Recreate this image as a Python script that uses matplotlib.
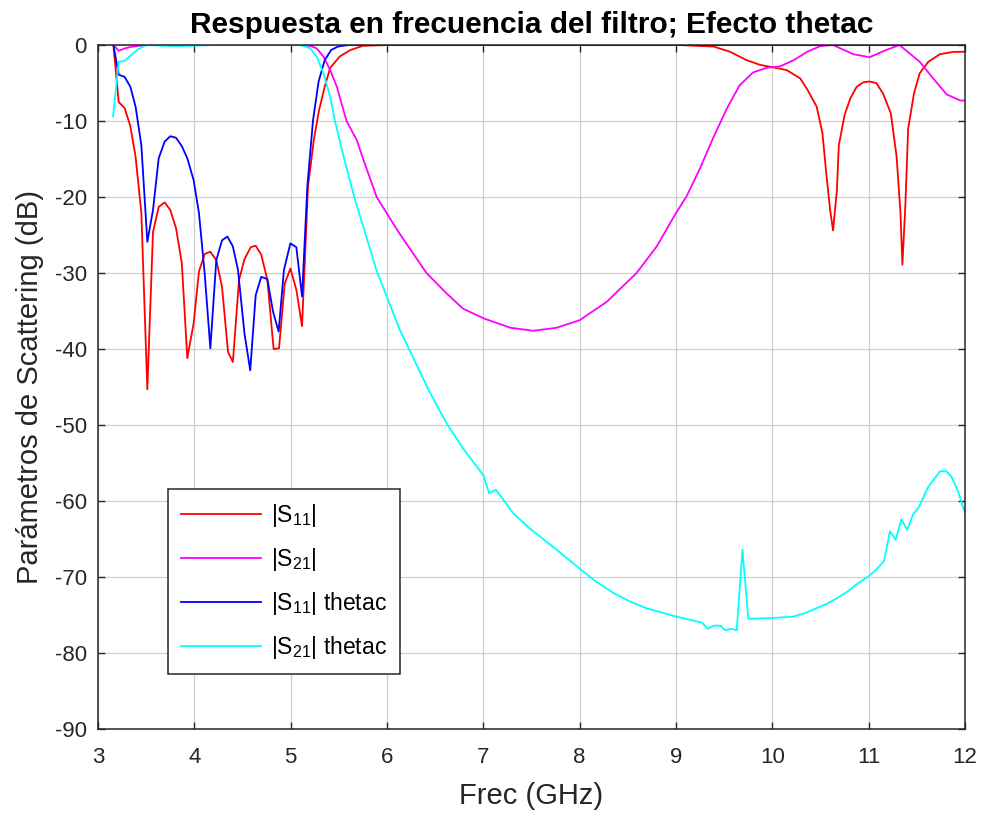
import numpy as np
import matplotlib.pyplot as plt

plt.rcParams['font.family'] = ['Liberation Sans', 'DejaVu Sans']
plt.rcParams['mathtext.fontset'] = 'custom'
plt.rcParams['mathtext.rm'] = 'Liberation Sans'
plt.rcParams['mathtext.it'] = 'Liberation Sans'
plt.rcParams['axes.unicode_minus'] = False

# |S11|
f_s11 = [3.16, 3.215, 3.277, 3.336, 3.39, 3.45, 3.512, 3.571, 3.63, 3.692,
         3.75, 3.81, 3.87, 3.927, 3.993, 4.048, 4.107, 4.166, 4.228, 4.287,
         4.35, 4.40, 4.464, 4.52, 4.585, 4.637, 4.695, 4.758, 4.823, 4.879,
         4.938, 4.997, 5.059, 5.118, 5.18, 5.24, 5.294, 5.353, 5.41, 5.51,
         5.62, 5.75, 6.0, 9.04, 9.39, 9.56, 9.73, 9.87, 10.01, 10.15,
         10.29, 10.37, 10.46, 10.52, 10.56, 10.60, 10.63, 10.67, 10.69, 10.75,
         10.81, 10.875, 10.945, 11.01, 11.08, 11.15, 11.23, 11.29, 11.33, 11.35,
         11.38, 11.41, 11.47, 11.53, 11.62, 11.74, 11.88, 12.0]
s11 = [0, -7.5, -8.3, -10.7, -14.7, -22.1, -45.3, -24.6, -21.3, -20.7,
       -21.7, -24.1, -28.7, -41.2, -36.6, -29.8, -27.5, -27.2, -28.3, -31.8,
       -40.4, -41.7, -30.9, -28.2, -26.6, -26.4, -27.6, -30.9, -40.0, -39.9,
       -31.4, -29.4, -32.2, -37.0, -18.6, -12.5, -8.6, -5.5, -3.0, -1.5,
       -0.66, -0.1, 0, 0, -0.2, -0.88, -1.97, -2.6, -2.94, -3.3,
       -4.4, -6.0, -8.1, -11.6, -16.9, -21.7, -24.4, -19.1, -13.2, -9.2,
       -7.0, -5.5, -4.9, -4.8, -5.0, -6.4, -9.0, -14.7, -22.1, -28.9,
       -21.3, -11.0, -6.4, -3.7, -2.2, -1.2, -0.9, -0.88]

# |S21|
f_s21 = [3.16, 3.215, 3.277, 3.34, 3.42, 3.52, 5.1, 5.2, 5.27, 5.34,
         5.41, 5.48, 5.58, 5.686, 5.755, 5.893, 6.01, 6.13, 6.27, 6.41,
         6.62, 6.79, 7.01, 7.28, 7.52, 7.76, 8.0, 8.28, 8.59, 8.80,
         9.0, 9.11, 9.25, 9.39, 9.53, 9.66, 9.80, 9.94, 10.08, 10.22,
         10.36, 10.50, 10.63, 10.84, 11.01, 11.18, 11.32, 11.53, 11.67, 11.81,
         11.95, 12.0]
s21 = [0, -0.75, -0.45, -0.25, -0.1, 0, 0, -0.1, -0.44, -1.5,
       -3.3, -5.5, -10.0, -12.5, -15.1, -20.0, -22.4, -24.8, -27.4, -30.0,
       -32.7, -34.7, -36.0, -37.2, -37.6, -37.2, -36.2, -33.8, -30.0, -26.5,
       -22.1, -19.9, -16.2, -12.1, -8.3, -5.3, -3.6, -3.0, -2.8, -2.0,
       -0.9, -0.13, 0, -1.2, -1.6, -0.66, 0, -2.2, -4.4, -6.5,
       -7.3, -7.3]

# |S11| thetac
f_s11t = [3.16, 3.215, 3.277, 3.336, 3.39, 3.45, 3.512, 3.571, 3.63, 3.692,
          3.75, 3.81, 3.87, 3.927, 3.993, 4.048, 4.107, 4.166, 4.228, 4.287,
          4.343, 4.40, 4.453, 4.52, 4.58, 4.637, 4.695, 4.758, 4.817, 4.875,
          4.93, 4.997, 5.059, 5.118, 5.173, 5.232, 5.29, 5.353, 5.42, 5.49,
          5.6, 12.0]
s11t = [0, -3.9, -4.2, -5.5, -8.1, -13.2, -25.9, -21.7, -14.9, -12.7,
        -12.0, -12.2, -13.3, -14.9, -17.8, -22.1, -30.0, -39.9, -28.3, -25.7,
        -25.2, -26.5, -29.6, -37.9, -42.8, -32.9, -30.5, -30.8, -35.1, -37.7,
        -29.6, -26.1, -26.6, -33.1, -18.6, -9.9, -4.8, -2.0, -0.66, -0.2,
        0, 0]

# |S21| thetac
f_s21t = [3.156, 3.215, 3.277, 3.346, 3.415, 3.5, 3.69, 3.87, 4.2, 5.1,
          5.2, 5.27, 5.34, 5.41, 5.46, 5.55, 5.66, 5.78, 5.89, 6.01,
          6.13, 6.27, 6.44, 6.62, 6.79, 7.0, 7.06, 7.13, 7.31, 7.49,
          7.76, 8.0, 8.17, 8.35, 8.52, 8.69, 9.0, 9.27, 9.33, 9.39,
          9.46, 9.51, 9.57, 9.63, 9.69, 9.75, 10.0, 10.22, 10.35, 10.46,
          10.57, 10.67, 10.77, 10.87, 11.0, 11.08, 11.16, 11.22, 11.28, 11.34,
          11.40, 11.46, 11.52, 11.62, 11.74, 11.80, 11.86, 11.93, 12.0]
s21t = [-9.4, -2.2, -2.1, -1.3, -0.57, 0, -0.1, -0.13, 0, 0,
        -0.4, -1.5, -3.7, -6.8, -10.0, -14.7, -20.0, -25.0, -29.6, -33.5,
        -37.4, -41.1, -45.6, -49.8, -53.1, -56.6, -59.0, -58.5, -61.6, -63.7,
        -66.4, -68.9, -70.6, -72.1, -73.2, -74.1, -75.2, -76.0, -76.8, -76.4,
        -76.4, -77.0, -76.8, -77.0, -66.4, -75.5, -75.4, -75.2, -74.7, -74.1,
        -73.5, -72.8, -72.0, -71.0, -69.9, -69.0, -67.9, -64.0, -65.1, -62.4,
        -63.8, -61.8, -60.8, -58.1, -56.1, -56.0, -56.8, -58.8, -61.6]

fig = plt.figure(figsize=(9.82, 8.13), dpi=100)
ax = fig.add_axes([0.0998, 0.1033, 0.8829, 0.8413])

lw = 1.3
ax.plot(f_s11, s11, color='#ff0000', lw=lw, label=r'|S$_{11}$|')
ax.plot(f_s21, s21, color='#ff00ff', lw=lw, label=r'|S$_{21}$|')
ax.plot(f_s11t, s11t, color='#0000ff', lw=lw, label=r'|S$_{11}$| thetac')
ax.plot(f_s21t, s21t, color='#00ffff', lw=lw, label=r'|S$_{21}$| thetac')

ax.set_xlim(3, 12)
ax.set_ylim(-90, 0)
ax.set_xticks(np.arange(3, 13, 1))
ax.set_yticks(np.arange(-90, 1, 10))
ax.grid(True, color='#d0d0d0', lw=0.9)
ax.set_axisbelow(True)
ax.tick_params(direction='in', length=5, width=1, top=True, right=True,
               labelsize=16, colors='#262626')
ax.tick_params(axis='x', pad=13)
ax.tick_params(axis='y', pad=8)
for s in ax.spines.values():
    s.set_color('#262626')
    s.set_linewidth(1.1)

ax.set_title('Respuesta en frecuencia del filtro; Efecto thetac',
             fontsize=21.5, fontweight='bold', pad=9)
ax.set_xlabel('Frec (GHz)', fontsize=21, color='#262626', labelpad=10)
ax.set_ylabel('Parámetros de Scattering (dB)', fontsize=21, color='#262626',
              labelpad=8)

leg = ax.legend(loc='upper left', bbox_to_anchor=(0.0807, 0.351),
                borderaxespad=0, fontsize=16.5, frameon=True, fancybox=False,
                framealpha=1, edgecolor='#262626', handlelength=3.5,
                handletextpad=0.45, borderpad=0.55, labelspacing=0.75)
leg.get_frame().set_linewidth(1.1)

fig.savefig('out.png', dpi=100)
